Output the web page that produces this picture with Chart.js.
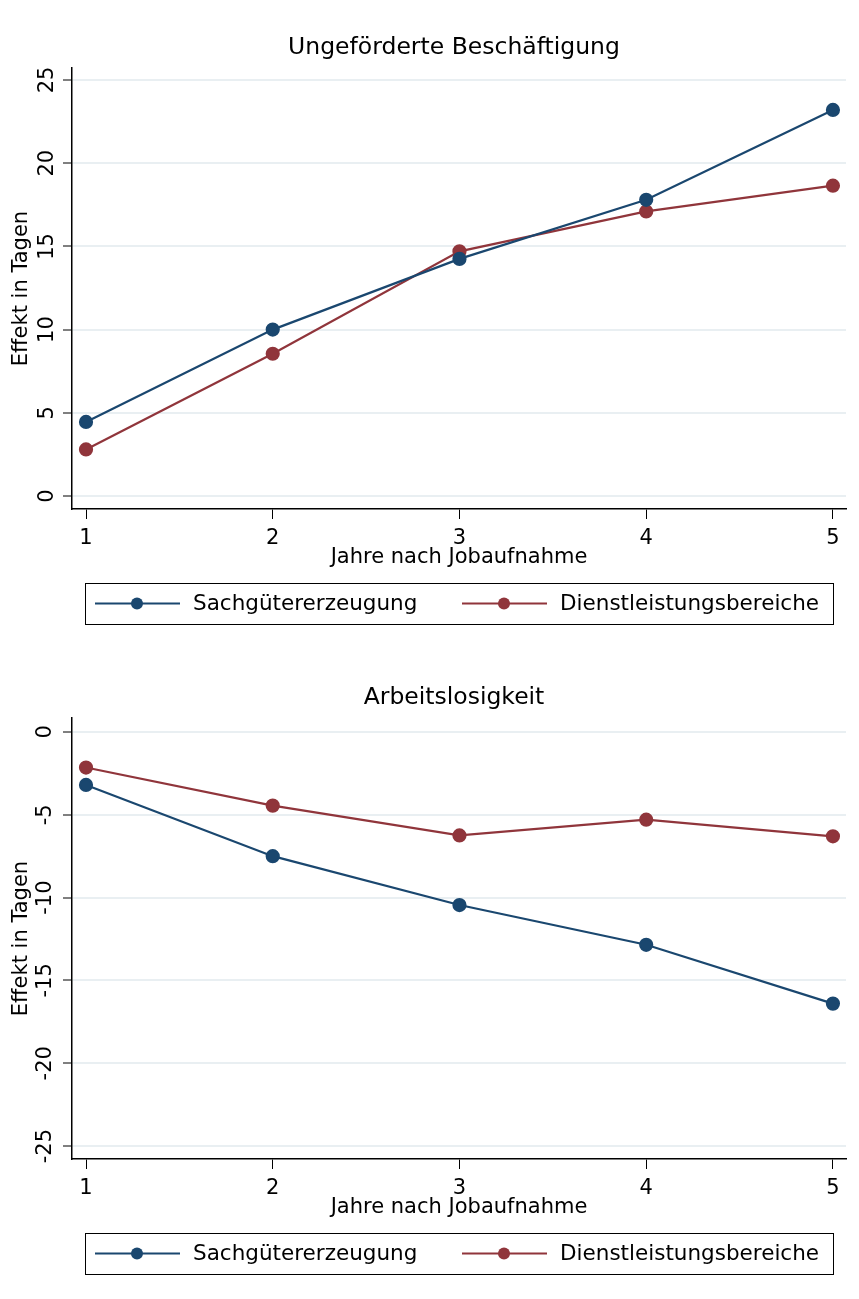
<!DOCTYPE html>
<html>
<head>
<meta charset="utf-8">
<script src="https://cdn.jsdelivr.net/npm/chart.js@4.4.0/dist/chart.umd.min.js"></script>
<style>
  body{margin:0;background:#fff;}
  .wrap{position:relative;width:859px;height:650px;}
</style>
</head>
<body>
<div class="wrap"><canvas id="top"></canvas></div>
<div class="wrap"><canvas id="bottom"></canvas></div>
<script>
// values
const years = [1, 2, 3, 4, 5];
const seriesNames = ['Sachgütererzeugung', 'Dienstleistungsbereiche'];
const seriesColors = ['#1a476f', '#90353b'];

const employSach   = [4.45, 10.0, 14.25, 17.8, 23.2];
const employDienst = [2.8, 8.55, 14.7, 17.1, 18.65];
const unempSach    = [-3.2, -7.5, -10.45, -12.85, -16.4];
const unempDienst  = [-2.15, -4.45, -6.25, -5.3, -6.3];

const yTicksTop    = [0, 5, 10, 15, 20, 25];
const yTicksBottom = [0, -5, -10, -15, -20, -25];

const FONT = '"DejaVu Sans", sans-serif';
const GRID = '#e9eff2';

function pts(vals){ return years.map((x,i)=>({x:x, y:vals[i]})); }

// title centred over the plot area (not the whole canvas)
const areaTitle = {
  id:'areaTitle',
  afterDraw(chart, args, opts){
    const ctx = chart.ctx, ca = chart.chartArea;
    ctx.save();
    ctx.font = '23.5px ' + FONT;
    ctx.fillStyle = '#000';
    ctx.textAlign = 'center';
    ctx.textBaseline = 'middle';
    ctx.fillText(opts.text, (ca.left + ca.right)/2 - 5, opts.y);
    ctx.restore();
  }
};

// legend drawn in a framed box under the plot
const boxLegend = {
  id:'boxLegend',
  afterDraw(chart){
    const ctx = chart.ctx;
    const xs = chart.scales.x;
    const left = Math.round(xs.getPixelForValue(years[0])) - 1;
    const right = Math.round(xs.getPixelForValue(years[years.length-1]));
    const top = chart.height - 67, h = 41;
    const cy = top + h/2;
    const cols = [10, 377];
    ctx.save();
    ctx.strokeStyle = '#000'; ctx.lineWidth = 1;
    ctx.strokeRect(left + 0.5, top + 0.5, right - left, h);
    ctx.font = '21.5px ' + FONT;
    ctx.textBaseline = 'middle';
    chart.data.datasets.forEach((ds, i)=>{
      const x = left + cols[i];
      ctx.strokeStyle = ds.borderColor; ctx.lineWidth = 2;
      ctx.beginPath(); ctx.moveTo(x, cy); ctx.lineTo(x + 85, cy); ctx.stroke();
      ctx.fillStyle = ds.borderColor;
      ctx.beginPath(); ctx.arc(x + 42, cy, 6, 0, Math.PI*2); ctx.fill();
      ctx.fillStyle = '#000';
      ctx.fillText(ds.label, x + 98, cy + 1);
    });
    ctx.restore();
  }
};

function makeChart(id, title, a, b, yTicks, ymin, ymax, tickPad){
  return new Chart(document.getElementById(id), {
    type:'line',
    data:{
      datasets:[
        {label:seriesNames[0], data:pts(a), borderColor:seriesColors[0], backgroundColor:seriesColors[0],
         borderWidth:2.2, pointRadius:6, pointHoverRadius:6, tension:0},
        {label:seriesNames[1], data:pts(b), borderColor:seriesColors[1], backgroundColor:seriesColors[1],
         borderWidth:2.2, pointRadius:6, pointHoverRadius:6, tension:0}
      ]
    },
    options:{
      responsive:true,
      maintainAspectRatio:false,
      animation:false,
      layout:{padding:{left:0, right:13, top:68, bottom:80}},
      plugins:{
        legend:{display:false},
        tooltip:{enabled:false},
        title:{display:false},
        areaTitle:{text:title, y:48}
      },
      scales:{
        x:{
          type:'linear', min:0.925, max:5.07,
          afterBuildTicks: s => { s.ticks = years.map(v=>({value:v})); },
          afterFit: s => { s.height = 61; },
          grid:{drawOnChartArea:false, tickColor:'#000', tickLength:10, tickWidth:1},
          border:{color:'#000', width:1.5},
          ticks:{color:'#000', font:{family:FONT, size:21}, padding:7, maxRotation:0},
          title:{display:true, text:'Jahre nach Jobaufnahme', color:'#000',
                 font:{family:FONT, size:21}, padding:{top:0, bottom:0}}
        },
        y:{
          type:'linear', min:ymin, max:ymax,
          afterBuildTicks: s => { s.ticks = yTicks.map(v=>({value:v})); },
          afterFit: s => { s.width = 72; },
          grid:{color:GRID, lineWidth:2, tickColor:'#000', tickLength:9, tickWidth:1},
          border:{color:'#000', width:1.5},
          ticks:{color:'#000', font:{family:FONT, size:21}, minRotation:90, maxRotation:90,
                 crossAlign:'center', padding:tickPad},
          title:{display:true, text:'Effekt in Tagen', color:'#000',
                 font:{family:FONT, size:21}, padding:{top:9, bottom:0}}
        }
      }
    },
    plugins:[areaTitle, boxLegend]
  });
}

makeChart('top', 'Ungeförderte Beschäftigung', employSach, employDienst, yTicksTop, -0.78, 25.72, 2);
makeChart('bottom', 'Arbeitslosigkeit', unempSach, unempDienst, yTicksBottom, -25.78, 0.84, 0);
</script>
</body>
</html>
